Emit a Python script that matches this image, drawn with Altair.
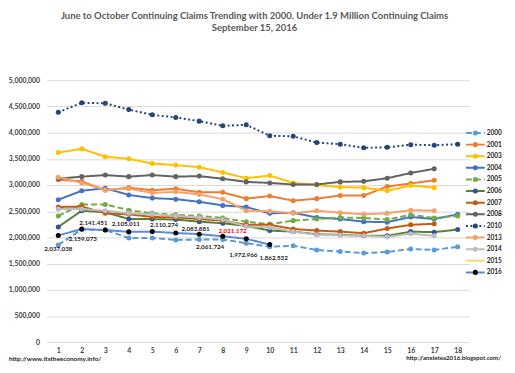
import altair as alt
import pandas as pd

# ---------------- data ----------------
weeks = list(range(1, 19))
years = ["2000", "2001", "2003", "2004", "2005", "2006", "2007",
         "2008", "2010", "2013", "2014", "2015", "2016"]

v2000 = [1856000, 2150000, 2140000, 1990000, 1990000, 1950000, 1960000, 1960000, 1890000,
         1820000, 1840000, 1760000, 1730000, 1700000, 1720000, 1780000, 1760000, 1820000]
v2001 = [3100000, 3070000, 2900000, 2950000, 2900000, 2930000, 2860000, 2860000, 2740000,
         2790000, 2700000, 2740000, 2800000, 2800000, 2970000, 3030000, 3090000]
v2003 = [3620000, 3690000, 3540000, 3500000, 3410000, 3380000, 3340000, 3240000, 3130000,
         3180000, 3040000, 3000000, 2960000, 2950000, 2890000, 2990000, 2950000]
v2004 = [2720000, 2890000, 2940000, 2810000, 2750000, 2730000, 2680000, 2610000, 2580000,
         2460000, 2470000, 2380000, 2350000, 2300000, 2290000, 2390000, 2350000, 2440000]
v2005 = [2410000, 2630000, 2630000, 2520000, 2460000, 2430000, 2410000, 2370000, 2300000,
         2250000, 2320000, 2350000, 2380000, 2370000, 2340000, 2430000, 2370000, 2410000]
v2006 = [2200000, 2510000, 2480000, 2350000, 2350000, 2340000, 2300000, 2270000, 2220000,
         2130000, 2110000, 2060000, 2050000, 2030000, 2030000, 2110000, 2100000, 2150000]
v2007 = [2580000, 2590000, 2460000, 2440000, 2390000, 2380000, 2350000, 2320000, 2240000,
         2240000, 2160000, 2130000, 2110000, 2080000, 2170000, 2240000, 2260000]
v2008 = [3120000, 3160000, 3190000, 3160000, 3190000, 3160000, 3170000, 3120000, 3060000,
         3040000, 3010000, 3010000, 3060000, 3070000, 3130000, 3230000, 3310000]
v2010 = [4390000, 4570000, 4560000, 4440000, 4340000, 4290000, 4220000, 4130000, 4150000,
         3940000, 3930000, 3810000, 3780000, 3710000, 3720000, 3770000, 3760000, 3780000]
v2013 = [3150000, 3040000, 2910000, 2930000, 2850000, 2870000, 2820000, 2730000, 2510000,
         2500000, 2460000, 2510000, 2470000, 2440000, 2460000, 2520000, 2510000]
v2014 = [2540000, 2540000, 2510000, 2460000, 2440000, 2410000, 2380000, 2340000, 2210000,
         2190000, 2110000, 2050000, 2040000, 2030000, 2010000, 2070000, 2030000]
v2015 = []
v2016 = [2037038, 2159073, 2141451, 2105011, 2110274, 2083881, 2061724, 2021172, 1972966,
         1862532]

series = {"2000": v2000, "2001": v2001, "2003": v2003, "2004": v2004, "2005": v2005,
          "2006": v2006, "2007": v2007, "2008": v2008, "2010": v2010, "2013": v2013,
          "2014": v2014, "2015": v2015, "2016": v2016}

# ---------------- styles ----------------
line_colors = ["#5B9BD5", "#ED7D31", "#FFC000", "#4472C4", "#70AD47", "#548235", "#C55A11",
               "#636363", "#264478", "#F4A26B", "#BDBDBD", "#FFD966", "#5B8BD6"]
marker_colors = ["#5B9BD5", "#ED7D31", "#FFC000", "#4472C4", "#70AD47", "#2F5597", "#C55A11",
                 "#636363", "#264478", "#F4A26B", "#BDBDBD", "#FFD966", "#000000"]
dashes = [[6, 3], [1, 0], [1, 0], [1, 0], [6, 3], [1, 0], [1, 0],
          [1, 0], [2, 2.5], [1, 0], [1, 0], [1, 0], [1, 0]]

# label offsets (px) for the 2016 data labels
lbl_dx = [0, 1, -12, -3, 12, 20, 11, 10, -3, 4]
lbl_dy = [14, 10, -7, -8, -7, -4, 13, -5, 16, 14]
lbl_col = ["#1a1a1a"] * 7 + ["#FF0000"] + ["#1a1a1a"] * 2

W, H = 428, 265
YMAX = 5000000
FONT = "Lato"

rows = []
for y in years:
    for i, v in enumerate(series[y]):
        rows.append({"year": y, "week": weeks[i], "value": v})
df = pd.DataFrame(rows)

px_x = W / 18.0
px_y = H / YMAX
lab = pd.DataFrame({
    "week": [weeks[i] + lbl_dx[i] / px_x for i in range(len(v2016))],
    "value": [v2016[i] - lbl_dy[i] / px_y for i in range(len(v2016))],
    "txt": [f"{v:,}" for v in v2016],
    "col": lbl_col,
})

xscale = alt.Scale(domain=[0.5, 18.5], nice=False, zero=False)
yscale = alt.Scale(domain=[0, YMAX], nice=False)
cscale = alt.Scale(domain=years, range=line_colors)
fscale = alt.Scale(domain=years, range=marker_colors)
dscale = alt.Scale(domain=years, range=dashes)

X = alt.X("week:Q", scale=xscale,
          axis=alt.Axis(values=weeks, labelExpr="format(datum.value, 'd')", grid=False,
                        domain=False, ticks=False,
                        labelOverlap=False, labelPadding=5, labelFont=FONT, labelFontSize=7,
                        labelFontWeight="bold", labelColor="#404040", title=None))
Y = alt.Y("value:Q", scale=yscale,
          axis=alt.Axis(values=list(range(0, 5000001, 500000)),
                        labelExpr="format(datum.value, ',')", domain=False,
                        ticks=False, labelOverlap=False, labelPadding=7, labelFont=FONT,
                        labelFontSize=7, labelFontWeight="bold", labelColor="#404040",
                        gridColor="#D9D9D9", gridWidth=1, title=None))

base = alt.Chart(df)
lines = base.mark_line(strokeWidth=2).encode(
    x=X, y=Y,
    color=alt.Color("year:N", scale=cscale, legend=None),
    strokeDash=alt.StrokeDash("year:N", scale=dscale, legend=None),
    detail="year:N",
)
points = base.mark_point(filled=True, size=26, opacity=1, strokeWidth=0).encode(
    x=X, y=Y,
    fill=alt.Fill("year:N", scale=fscale, legend=None),
)
labels = alt.Chart(lab).mark_text(font=FONT, fontSize=6.3, fontWeight="bold",
                                  baseline="middle", align="center").encode(
    x=X, y=Y,
    text="txt:N", color=alt.Color("col:N", scale=None),
)

title_df = pd.DataFrame({"t": [
    "June to October Continuing Claims Trending with 2000. Under 1.9 Million Continuing Claims"]})
t1 = alt.Chart(title_df).mark_text(font=FONT, fontSize=9.6, fontWeight="bold", color="#595959",
                                   align="center", baseline="middle").encode(
    x=alt.value(210.5), y=alt.value(-65.5), text="t:N")
sub_df = pd.DataFrame({"t": ["September 15, 2016"]})
t2 = alt.Chart(sub_df).mark_text(font=FONT, fontSize=9.6, fontWeight="bold", color="#595959",
                                 align="center", baseline="middle").encode(
    x=alt.value(210.5), y=alt.value(-53.3), text="t:N")
f1_df = pd.DataFrame({"t": ["http://www.itstheeconomy.info/"]})
f1 = alt.Chart(f1_df).mark_text(font=FONT, fontSize=6.5, fontWeight="bold", color="#262626",
                                align="left", baseline="bottom").encode(
    x=alt.value(-38), y=alt.value(285), text="t:N")
f2_df = pd.DataFrame({"t": ["http://anxietea2016.blogspot.com/"]})
f2 = alt.Chart(f2_df).mark_text(font=FONT, fontSize=6.2, fontWeight="bold", color="#262626",
                                align="right", baseline="bottom").encode(
    x=alt.value(460), y=alt.value(284), text="t:N")

data_layer = alt.layer(lines, points, labels, t1, t2, f1, f2)

# ---------------- custom legend ----------------
leg_df = pd.DataFrame({"year": years})
LY = alt.Y("year:N", scale=alt.Scale(domain=years, range=[47.5, 200.3], padding=0), axis=None)
leg_line = alt.Chart(leg_df).mark_rule(strokeWidth=2).encode(
    x=alt.value(424.5), x2=alt.value(443.5), y=LY,
    color=alt.Color("year:N", scale=cscale, legend=None),
    strokeDash=alt.StrokeDash("year:N", scale=dscale, legend=None),
)
leg_pt = alt.Chart(leg_df).transform_filter(alt.datum.year != "2015").mark_point(
    filled=True, size=26, opacity=1, strokeWidth=0).encode(
    x=alt.value(434), y=LY,
    fill=alt.Fill("year:N", scale=fscale, legend=None),
)
leg_txt = alt.Chart(leg_df).mark_text(font=FONT, fontSize=6.6, fontWeight="bold",
                                      color="#262626", align="left",
                                      baseline="middle").encode(
    x=alt.value(445.5), y=LY, text="year:N")
legend_layer = alt.layer(leg_line, leg_pt, leg_txt)

chart = alt.layer(data_layer, legend_layer).resolve_scale(y="independent").properties(
    width=W, height=H,
    autosize=alt.AutoSizeParams(type="none"),
    padding={"left": 39, "top": 71, "right": 38, "bottom": 21},
    background="white",
).configure_view(stroke=None)

chart.save("out.html", embed_options={"renderer": "svg", "actions": False})
